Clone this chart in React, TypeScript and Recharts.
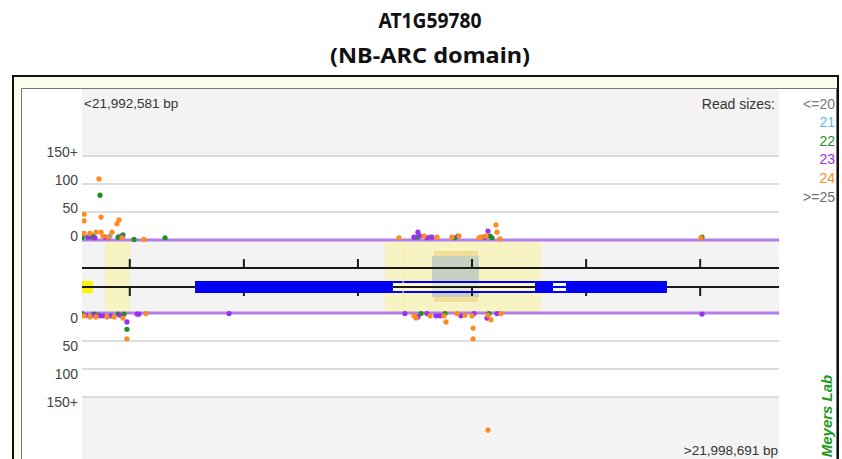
import React from 'react';
import { ComposedChart, Scatter, XAxis, YAxis, ReferenceArea, ReferenceLine } from 'recharts';

// genome window shown in the browser (positions below are offsets from the start)
const WINDOW_START = 21992581;
const WINDOW_END = 21998691;
const SPAN = WINDOW_END - WINDOW_START;

const tickPositions = [21993000, 21994000, 21995000, 21996000, 21997000, 21998000];

// gene model (bp offsets)
const utrParts = [[0, 96]];
const cdsParts = [[991, 2726], [3971, 4129], [4243, 5128]];
const intronParts = [[2726, 3971]];
const smallIntronParts = [[4129, 4243]];
const highlightParts = [[202, 421], [2656, 4024]];
const domainOuter = [3086, 3471];
const domainInner = [3068, 3480];
const faintLinePos = 2815;

// read-count axis ticks
const tickReads = [150, 100, 50, 0];
const tickLabels = ['150+', '100', '50', '0'];

const readSizes = ['<=20', '21', '22', '23', '24', '>=25'];
const sizeColors = ['#7a7a7a', '#5cb8f0', '#1f8f1f', '#9b30f0', '#ff8a1f', '#6e6e6e'];

// [offset, reads] plus strand
const plusLe20 = [[88, 4], [3051, 5]];
const plus21 = [[26, 5], [245, 7], [333, 7], [3287, 4]];
const plus22 = [[158, 80], [0, 4], [96, 7], [316, 5], [359, 9], [456, 1], [728, 4], [2937, 5], [3270, 4], [3577, 7], [3594, 4], [5435, 5]];
const plus23 = [[53, 5], [114, 4], [202, 5], [228, 4], [351, 5], [2910, 5], [2945, 14], [2963, 7], [3024, 4], [3068, 5], [3296, 7], [3533, 5], [3559, 16]];
const plus24 = [[18, 46], [18, 34], [167, 41], [307, 29], [324, 36], [149, 109], [18, 12], [70, 12], [123, 14], [167, 14], [263, 14], [184, 7], [228, 5], [351, 4], [543, 1], [2779, 4], [2998, 7], [3112, 5], [3243, 5], [3305, 7], [3480, 4], [3498, 5], [3541, 7], [3629, 27], [3638, 14], [3664, 2], [5426, 4]];
const plusGe25 = [[3520, 5]];

// [offset, reads] minus strand
const minusLe20 = [[140, 3]];
const minus21 = [[245, 4]];
const minus22 = [[0, 1], [105, 2], [316, 2], [368, 2], [394, 29], [2972, 1], [3182, 1], [3568, 1]];
const minus23 = [[35, 4], [105, 4], [158, 5], [184, 5], [254, 5], [333, 4], [394, 16], [482, 2], [500, 2], [1289, 1], [2831, 1], [2945, 7], [3024, 1], [3103, 5], [3138, 5], [3322, 5], [3436, 1], [3550, 9], [3638, 1], [5435, 2]];
const minus24 = [[18, 5], [70, 7], [123, 7], [219, 7], [281, 7], [359, 9], [394, 46], [561, 1], [2910, 5], [2928, 9], [3051, 5], [3173, 5], [3191, 16], [3287, 1], [3357, 4], [3419, 5], [3428, 27], [3428, 46], [3559, 4], [3585, 12], [3673, 1], [3559, 209]];
const minusGe25: number[][] = [];

// layout of the y axis (chart units = pixels from bottom)
const Y_MAX = 370;
const TOP_BASE = 219;
const BOT_BASE = 146;
const PX_PER_READ = 0.56;
const TRACK_LINE = 191;
const TRACK_MID = 172;
const BOX_TOP = 178;
const BOX_BOT = 166;

const plusY = (r: number) => TOP_BASE + r * PX_PER_READ;
const minusY = (r: number) => BOT_BASE - r * PX_PER_READ;

const plusSets = [plusLe20, plus21, plus22, plus23, plus24, plusGe25];
const minusSets = [minusLe20, minus21, minus22, minus23, minus24, minusGe25];

const drawOrder = [0, 5, 1, 2, 3, 4];

const topTicks = tickReads.map(plusY);
const botTicks = tickReads.map(minusY);

function ReadTick(props: any) {
  const { x, y, payload } = props;
  const v = payload.value;
  let i = topTicks.findIndex((t) => Math.abs(t - v) < 0.01);
  let dy = -4;
  if (i < 0) {
    i = botTicks.findIndex((t) => Math.abs(t - v) < 0.01);
    dy = 5;
  }
  return (
    <text x={x} y={y + dy} dy="0.36em" textAnchor="end" fontSize={14} fill="#444"
      fontFamily="'Liberation Sans', Arial, sans-serif">
      {tickLabels[i]}
    </text>
  );
}

const dot = (color: string) => (p: any) => <circle cx={p.cx} cy={p.cy} r={2.6} fill={color} />;

const BLUE = '#0000f5';
const INK = '#1a1a1a';

export default function App() {
  const font = "'Liberation Sans', Arial, sans-serif";
  return (
    <div style={{ position: 'absolute', left: 0, top: 0, width: 842, height: 459, background: '#fff', overflow: 'hidden' }}>
      <svg width={842} height={459} style={{ position: 'absolute', left: 0, top: 0 }}>
        <rect x={13} y={76} width={825} height={420} fill="#fcfcea" stroke="#111" strokeWidth={2} />
        <rect x={21.5} y={88.5} width={815} height={420} fill="#fff" stroke="#777" strokeWidth={1} />
      </svg>
      <div style={{ position: 'absolute', left: 0, top: 0 }}>
        <ComposedChart width={842} height={459} margin={{ top: 89, right: 63, bottom: 0, left: 22 }}>
          <XAxis type="number" dataKey="x" domain={[0, SPAN]} hide allowDataOverflow />
          <YAxis type="number" dataKey="y" domain={[0, Y_MAX]} ticks={[...topTicks, ...botTicks]} interval={0}
            tick={<ReadTick />} axisLine={false} tickLine={false} tickSize={0} tickMargin={4} width={60} allowDataOverflow />

          <ReferenceArea x1={0} x2={SPAN} y1={0} y2={Y_MAX} fill="#f3f3f3" fillOpacity={1} stroke="none" />
          <ReferenceArea x1={0} x2={SPAN} y1={TOP_BASE} y2={plusY(150)} fill="#fff" fillOpacity={1} stroke="none" />
          <ReferenceArea x1={0} x2={SPAN} y1={minusY(150)} y2={BOT_BASE} fill="#fff" fillOpacity={1} stroke="none" />

          {highlightParts.map(([a, b], i) => (
            <ReferenceArea key={'h' + i} x1={a} x2={b} y1={BOT_BASE} y2={TOP_BASE - 2} fill="#f7f3c2" fillOpacity={1} stroke="none" />
          ))}
          <ReferenceArea x1={domainOuter[0]} x2={domainOuter[1]} y1={BOT_BASE + 11} y2={TOP_BASE - 11} fill="#f3dc98" fillOpacity={1} stroke="none" />
          <ReferenceArea x1={domainInner[0]} x2={domainInner[1]} y1={BOT_BASE + 16} y2={TOP_BASE - 16} fill="#c8d0c2" fillOpacity={1} stroke="none" />

          {utrParts.map(([a, b], i) => (
            <ReferenceArea key={'u' + i} x1={a} x2={b} y1={BOX_BOT} y2={BOX_TOP} fill="#fff200" fillOpacity={1} stroke="none" />
          ))}
          {cdsParts.map(([a, b], i) => (
            <ReferenceArea key={'c' + i} x1={a} x2={b} y1={BOX_BOT} y2={BOX_TOP} fill={BLUE} fillOpacity={1} stroke="none" />
          ))}
          {[...intronParts, ...smallIntronParts].map(([a, b], i) => (
            <React.Fragment key={'i' + i}>
              <ReferenceArea x1={a} x2={b} y1={BOX_TOP - 2} y2={BOX_TOP} fill={BLUE} fillOpacity={1} stroke="none" />
              <ReferenceArea x1={a} x2={b} y1={BOX_BOT} y2={BOX_BOT + 2} fill={BLUE} fillOpacity={1} stroke="none" />
            </React.Fragment>
          ))}
          {intronParts.map(([a, b], i) => (
            <ReferenceArea key={'iw' + i} x1={a} x2={b} y1={BOX_BOT + 2} y2={BOX_TOP - 2} fill="#fffbe0" fillOpacity={0.6} stroke="none" />
          ))}
          {smallIntronParts.map(([a, b], i) => (
            <React.Fragment key={'s' + i}>
              <ReferenceArea x1={a} x2={b} y1={BOX_BOT + 2} y2={BOX_TOP - 2} fill="#fff" fillOpacity={1} stroke="none" />
              <ReferenceArea x1={a} x2={b} y1={TRACK_MID - 1} y2={TRACK_MID + 1} fill={BLUE} fillOpacity={1} stroke="none" />
            </React.Fragment>
          ))}

          <ReferenceLine segment={[{ x: faintLinePos, y: BOT_BASE + 2 }, { x: faintLinePos, y: TOP_BASE - 2 }]} stroke="#f2eca8" strokeWidth={1} />

          {[1, 2, 3].map((k) => (
            <ReferenceLine key={'g' + k} y={plusY(50 * k)} stroke="#d2d2d2" strokeWidth={1.5} />
          ))}
          {[1, 2, 3].map((k) => (
            <ReferenceLine key={'m' + k} y={minusY(50 * k)} stroke="#d2d2d2" strokeWidth={1.5} />
          ))}

          <ReferenceLine y={TRACK_LINE} stroke={INK} strokeWidth={2} />
          {[[0, cdsParts[0][0]], intronParts[0], [cdsParts[2][1], SPAN]].map(([a, b], i) => (
            <ReferenceLine key={'ml' + i} segment={[{ x: a, y: TRACK_MID }, { x: b, y: TRACK_MID }]} stroke={INK} strokeWidth={2} />
          ))}
          {tickPositions.map((p) => {
            const off = p - WINDOW_START;
            const inBlue = cdsParts.some(([a, b]) => off >= a && off <= b);
            return (
              <React.Fragment key={'t' + p}>
                <ReferenceLine segment={[{ x: off, y: TRACK_LINE }, { x: off, y: TRACK_LINE + 9 }]} stroke={INK} strokeWidth={2} />
                <ReferenceLine segment={[{ x: off, y: inBlue ? BOX_BOT : TRACK_MID }, { x: off, y: BOX_BOT - 3 }]} stroke={INK} strokeWidth={2} />
              </React.Fragment>
            );
          })}

          <ReferenceLine y={TOP_BASE} stroke="#b47ee8" strokeWidth={3} />
          <ReferenceLine y={BOT_BASE} stroke="#b47ee8" strokeWidth={3} />

          {drawOrder.map((s) => (
            <Scatter key={'p' + s} name={readSizes[s]} data={plusSets[s].map(([x, r]) => ({ x, y: plusY(r) }))}
              shape={dot(sizeColors[s])} isAnimationActive={false} />
          ))}
          {drawOrder.map((s) => (
            <Scatter key={'n' + s} name={readSizes[s]} data={minusSets[s].map(([x, r]) => ({ x, y: minusY(r) }))}
              shape={dot(sizeColors[s])} isAnimationActive={false} />
          ))}
        </ComposedChart>
      </div>
      <svg width={842} height={459} style={{ position: 'absolute', left: 0, top: 0, pointerEvents: 'none' }}>
        <text x={430} y={28} textAnchor="middle" fontSize={21} fontWeight="bold" fill="#111"
          fontFamily="'Noto Sans', sans-serif" textLength={103} lengthAdjust="spacingAndGlyphs">AT1G59780</text>
        <text x={430} y={63} textAnchor="middle" fontSize={21} fontWeight="bold" fill="#111"
          fontFamily="'Noto Sans', sans-serif" textLength={200} lengthAdjust="spacingAndGlyphs">(NB-ARC domain)</text>

        <text x={84} y={108} fontSize={13.5} fill="#333" fontFamily={font}>{'<' + WINDOW_START.toLocaleString('en-US') + ' bp'}</text>
        <text x={775} y={109} textAnchor="end" fontSize={14} fill="#333" fontFamily={font}>Read sizes:</text>
        {readSizes.map((s, i) => (
          <text key={s} x={835} y={108.5 + i * 18.6} textAnchor="end" fontSize={14} fill={sizeColors[i]} fontFamily={font}>{s}</text>
        ))}
        <text x={778} y={455} textAnchor="end" fontSize={13.5} fill="#333" fontFamily={font}>{'>' + WINDOW_END.toLocaleString('en-US') + ' bp'}</text>
        <text x={832} y={416} textAnchor="middle" fontSize={15} fontWeight="bold" fontStyle="italic" fill="#1f9a1f"
          fontFamily={font} transform="rotate(-90 832 416)">Meyers Lab</text>
      </svg>
    </div>
  );
}
